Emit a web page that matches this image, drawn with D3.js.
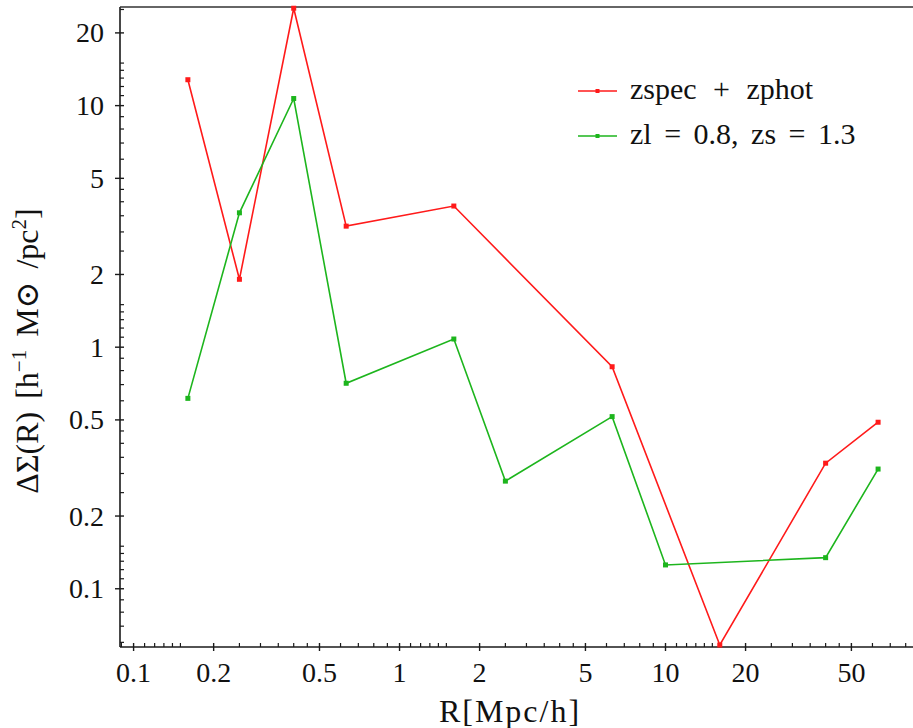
<!DOCTYPE html>
<html>
<head>
<meta charset="utf-8">
<script src="https://cdn.jsdelivr.net/npm/d3@7"></script>
<style>
  html, body { margin: 0; padding: 0; background: #fff; }
  svg { display: block; }
</style>
</head>
<body>
<svg id="chart" width="913" height="728" font-family="'Liberation Serif', 'DejaVu Serif', 'Noto Serif', 'Times New Roman', Times, serif"></svg>
<script>
// ---- data ----
const seriesNames = ["zspec + zphot", "zl = 0.8, zs = 1.3"];
const seriesColors = ["#ff1a1a", "#1db51d"];
const redR   = [0.16, 0.25, 0.40, 0.63, 1.6, 6.3, 16, 40, 63];
const redDS  = [12.8, 1.91, 25.3, 3.17, 3.84, 0.83, 0.0585, 0.331, 0.489];
const greenR  = [0.16, 0.25, 0.40, 0.63, 1.6, 2.5, 6.3, 10, 40, 63];
const greenDS = [0.614, 3.60, 10.7, 0.709, 1.081, 0.279, 0.516, 0.1255, 0.1345, 0.313];
const xMajorTicks = [0.1, 0.2, 0.5, 1, 2, 5, 10, 20, 50];
const yMajorTicks = [0.1, 0.2, 0.5, 1, 2, 5, 10, 20];
const minorMultipliers = [1.1, 1.2, 1.3, 1.4, 1.5, 2.5, 3, 3.5, 4, 4.5, 6, 7, 8, 9];
const decades = [0.01, 0.1, 1, 10, 100];
const xTitle = "R[Mpc/h]";

// ---- layout ----
const svg = d3.select("#chart");
const pL = 120, pR = 913.5, pT = 7, pB = 647;
const x = d3.scaleLog().domain([0.0889, 85.6]).range([pL, pR]);
const y = d3.scaleLog().domain([0.0574, 25.6]).range([pB, pT]);

const minorVals = [];
decades.forEach(d => minorMultipliers.forEach(m => minorVals.push(d * m)));
const xMinor = minorVals.filter(v => x(v) > pL + 1 && x(v) < 913);
const yMinor = minorVals.filter(v => y(v) < pB - 1 && y(v) > pT + 1);

const g = svg.append("g");
// frame
g.append("line").attr("x1", pL).attr("x2", 913).attr("y1", pB).attr("y2", pB)
  .attr("stroke", "#1a1a1a").attr("stroke-width", 1.6);
g.append("line").attr("x1", pL).attr("x2", pL).attr("y1", pT).attr("y2", pB)
  .attr("stroke", "#1a1a1a").attr("stroke-width", 1.6);
g.append("line").attr("x1", pL).attr("x2", 913).attr("y1", pT).attr("y2", pT)
  .attr("stroke", "#333").attr("stroke-width", 1.6);

// x ticks
g.selectAll(".xmaj").data(xMajorTicks).join("line")
  .attr("x1", d => x(d)).attr("x2", d => x(d))
  .attr("y1", pB + 4).attr("y2", pB - 4)
  .attr("stroke", "#1a1a1a").attr("stroke-width", 1.4);
g.selectAll(".xmin").data(xMinor).join("line")
  .attr("x1", d => x(d)).attr("x2", d => x(d))
  .attr("y1", pB).attr("y2", pB - 4)
  .attr("stroke", "#1a1a1a").attr("stroke-width", 1.2);
g.selectAll(".xlab").data(xMajorTicks).join("text")
  .attr("x", d => x(d)).attr("y", 682)
  .attr("text-anchor", "middle").attr("font-size", 28).attr("fill", "#111")
  .text(d => d3.format("~g")(d));

// y ticks
g.selectAll(".ymaj").data(yMajorTicks).join("line")
  .attr("x1", pL - 5).attr("x2", pL + 4)
  .attr("y1", d => y(d)).attr("y2", d => y(d))
  .attr("stroke", "#1a1a1a").attr("stroke-width", 1.4);
g.selectAll(".ymin").data(yMinor).join("line")
  .attr("x1", pL).attr("x2", pL + 4)
  .attr("y1", d => y(d)).attr("y2", d => y(d))
  .attr("stroke", "#1a1a1a").attr("stroke-width", 1.2);
g.selectAll(".ylab").data(yMajorTicks).join("text")
  .attr("x", 104).attr("y", d => y(d) + 9.5)
  .attr("text-anchor", "end").attr("font-size", 28).attr("fill", "#111")
  .text(d => d3.format("~g")(d));

// axis titles
svg.append("text").attr("x", 510).attr("y", 722).attr("fill", "#111")
  .attr("text-anchor", "middle").attr("font-size", 32)
  .attr("letter-spacing", 2).text(xTitle);

const yt = svg.append("text").attr("fill", "#111")
  .attr("transform", "translate(38,351) rotate(-90)")
  .attr("text-anchor", "middle").attr("font-size", 32)
  .attr("word-spacing", 5).attr("xml:space", "preserve");
yt.append("tspan").text("ΔΣ(R) [h");
yt.append("tspan").attr("font-size", 21).attr("dy", -12).text("−1");
yt.append("tspan").attr("dy", 12).text(" M⊙ /pc");
yt.append("tspan").attr("font-size", 21).attr("dy", -12).text("2");
yt.append("tspan").attr("dy", 12).text("]");

// series
const series = [
  { name: seriesNames[0], color: seriesColors[0], xs: redR, ys: redDS },
  { name: seriesNames[1], color: seriesColors[1], xs: greenR, ys: greenDS }
];
const line = d3.line().x(d => x(d[0])).y(d => y(d[1]));
series.forEach(s => {
  const pts = s.xs.map((v, i) => [v, s.ys[i]]);
  svg.append("path").datum(pts).attr("d", line)
    .attr("fill", "none").attr("stroke", s.color).attr("stroke-width", 1.6);
  svg.selectAll(null).data(pts).join("rect")
    .attr("x", d => x(d[0]) - 2.5).attr("y", d => y(d[1]) - 2.5)
    .attr("width", 5).attr("height", 5).attr("fill", s.color);
});

// legend
const legendY = [91, 136];
const legendWordSpacing = [9, 5];
series.forEach((s, i) => {
  const lg = svg.append("g");
  lg.append("line").attr("x1", 578).attr("x2", 617)
    .attr("y1", legendY[i]).attr("y2", legendY[i])
    .attr("stroke", s.color).attr("stroke-width", 1.6);
  lg.append("rect").attr("x", 595.5).attr("y", legendY[i] - 2)
    .attr("width", 4).attr("height", 4).attr("fill", s.color);
  lg.append("text").attr("x", 630).attr("y", legendY[i] + 8)
    .attr("font-size", 30).attr("fill", "#111")
    .attr("word-spacing", legendWordSpacing[i])
    .attr("xml:space", "preserve")
    .text(s.name);
});
</script>
</body>
</html>
